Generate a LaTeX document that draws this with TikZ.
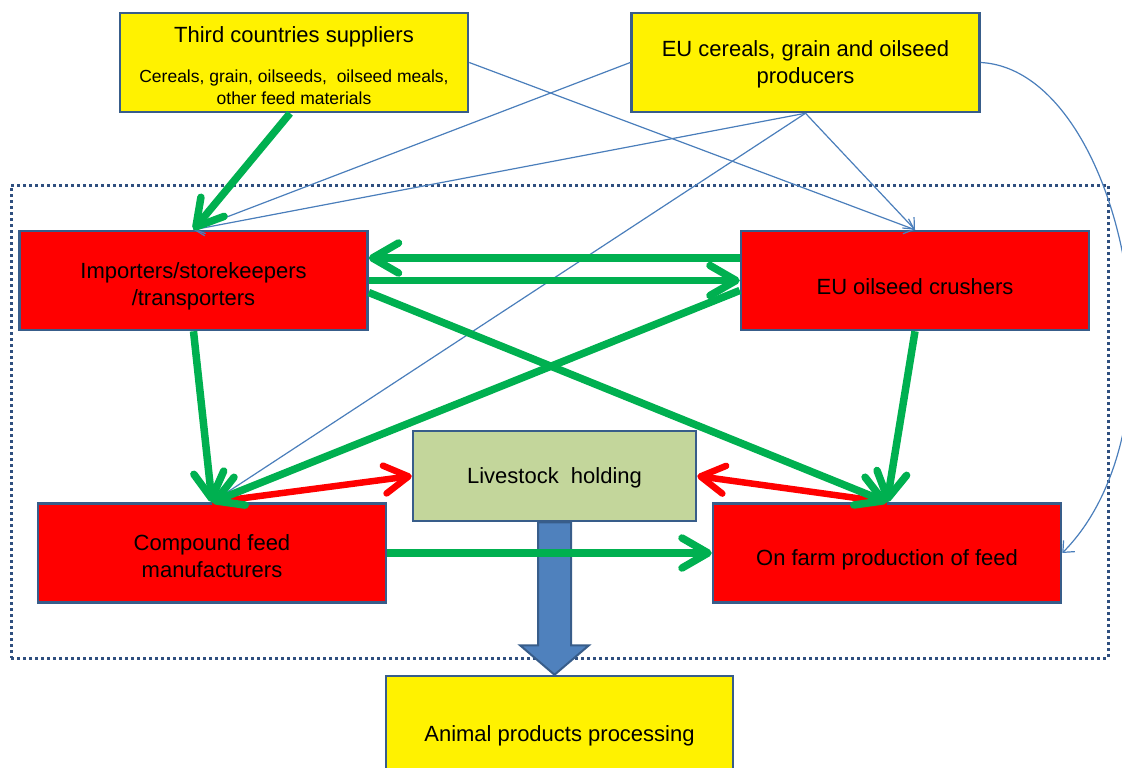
\documentclass[tikz,border=0pt]{standalone}
\usepackage{fontspec}
\setmainfont{Liberation Sans}
\usetikzlibrary{arrows.meta,calc}
\definecolor{boxborder}{HTML}{385D8A}
\definecolor{framecol}{HTML}{2F4F7F}
\definecolor{fgreen}{HTML}{00B050}
\definecolor{thinblue}{HTML}{4A7EBB}
\definecolor{blockblue}{HTML}{4F81BD}
\definecolor{livefill}{HTML}{C3D69B}
\newcommand{\tdrop}[1]{\rule{0pt}{#1}}
\pgfdeclarelayer{background}
\pgfsetlayers{background,main}
\begin{document}
\begin{tikzpicture}[x=1pt,y=-1pt,
  box/.style={draw=boxborder, line width=2.5pt, rectangle, inner sep=0pt, align=center,
    font=\fontsize{22}{27}\selectfont, minimum width=348pt, minimum height=99pt},
  ybox/.style={box, fill=yellow},
  rbox/.style={box, fill=red},
  thinline/.style={draw=thinblue, line width=1.2pt, -{Straight Barb[length=9pt,width=16pt]}},
  garrow/.style={draw=fgreen, line width=7.5pt, -{Straight Barb[length=26pt,width=30pt,round]}},
  rarrow/.style={draw=red, line width=6.5pt, -{Straight Barb[length=24pt,width=28pt,round]}},
  frame/.style={draw=framecol, line width=3pt, dash pattern=on 3pt off 3pt, inner sep=0pt}
]
\clip (0,0) rectangle (1122,768);

% boxes
\node[ybox, font=\fontsize{22}{22}\selectfont] (third) at (294,62.5)
  {\tdrop{22pt}Third countries suppliers\\[18pt]{\fontsize{17.5}{22}\selectfont Cereals, grain, oilseeds,~ oilseed meals,}\\{\fontsize{17.5}{22}\selectfont other feed materials}};
\node[ybox] (eu) at (805.5,62.5) {\tdrop{20pt}EU cereals, grain and oilseed\\producers};
\node[rbox] (importers) at (193.5,280.5) {\tdrop{28pt}Importers/storekeepers\\/transporters};
\node[rbox] (crushers) at (915,280.5) {\tdrop{28pt}EU oilseed crushers};
\node[box, fill=livefill, minimum width=283pt, minimum height=90pt] (livestock) at (554.5,476) {\tdrop{20pt}Livestock~ holding};
\node[rbox] (compound) at (212,553) {\tdrop{22pt}Compound feed\\manufacturers};
\node[rbox] (onfarm) at (887,553) {\tdrop{30pt}On farm production of feed};
\node[ybox, minimum width=347pt, minimum height=114pt] (animal) at (559.5,733) {\tdrop{22pt}Animal products processing};

\begin{pgfonlayer}{background}
  \node[frame, minimum width=1097pt, minimum height=473pt] (sector) at (559.5,421.5) {};
  \filldraw[fill=blockblue, draw=boxborder, line width=2pt, line join=miter]
    ($(livestock.south)+(-16.5,0)$) -- ++(0,123) -- ++(-18,0)
    -- (livestock.south |- animal.north)
    -- ($(livestock.south)+(34.5,123)$) -- ++(-18,0) -- ($(livestock.south)+(16.5,0)$) -- cycle;
\end{pgfonlayer}

% thin blue connectors
\draw[thinline] (eu.west) -- (importers.north);
\draw[thinline] (eu.south) -- (importers.north);
\draw[thinline] (third.east) -- (crushers.north);
\draw[thinline] (eu.south) -- (crushers.north);
\draw[thinline] (eu.south) -- (compound.north);
\draw[thinline] (eu.east) .. controls ($(eu.east)+(141,7.5)$) and ($(onfarm.east)+(132,-133)$) .. (onfarm.east);

% red connectors
\draw[rarrow] (compound.north) -- (livestock.west);
\draw[rarrow] (onfarm.north) -- (livestock.east);

% green connectors
\draw[garrow] ([xshift=-4pt]third.south) -- (importers.north);
\draw[garrow] ([yshift=22.5pt]crushers.west) -- ([yshift=22.5pt]importers.east);
\draw[garrow] (importers.east) -- (crushers.west);
\draw[garrow] ([yshift=-12pt]importers.east) -- (onfarm.north);
\draw[garrow] (importers.south) -- (compound.north);
\draw[garrow] ([yshift=-10pt]crushers.west) -- (compound.north);
\draw[garrow] (crushers.south) -- (onfarm.north);
\draw[garrow] (compound.east) -- (onfarm.west);
\end{tikzpicture}
\end{document}
